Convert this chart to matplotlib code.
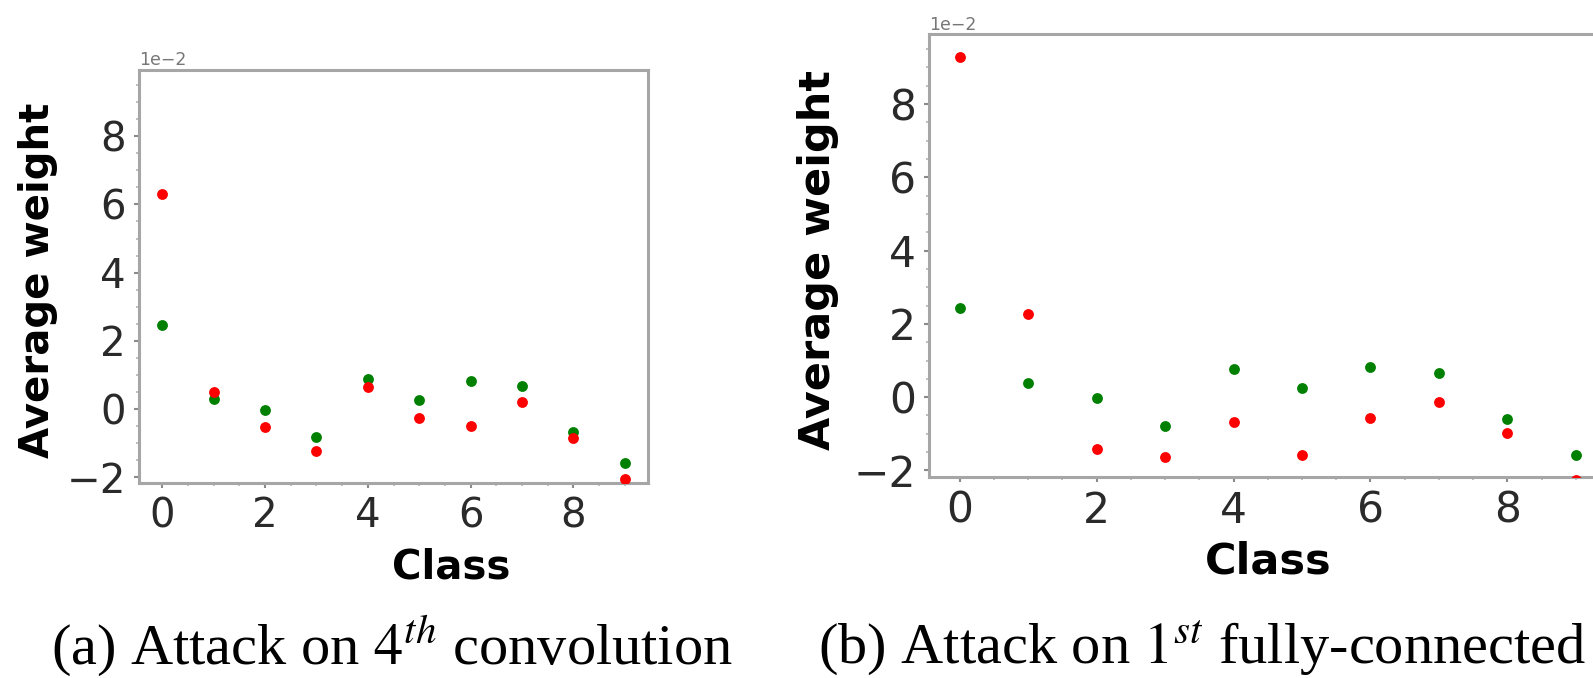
import matplotlib
matplotlib.use("Agg")
import matplotlib.pyplot as plt
from matplotlib.ticker import AutoMinorLocator

plt.rcParams['mathtext.fontset'] = 'stix'

classes = [0, 1, 2, 3, 4, 5, 6, 7, 8, 9]

# (a) Attack on 4th convolution  (values in units of 1e-2)
conv_green = [2.46, 0.30, -0.02, -0.82, 0.89, 0.26, 0.84, 0.67, -0.67, -1.58]
conv_red = [6.30, 0.49, -0.53, -1.21, 0.64, -0.25, -0.49, 0.20, -0.84, -2.05]

# (b) Attack on 1st fully-connected  (values in units of 1e-2)
fc_green = [2.43, 0.38, -0.03, -0.80, 0.76, 0.26, 0.81, 0.65, -0.60, -1.57]
fc_red = [9.27, 2.27, -1.42, -1.64, -0.69, -1.57, -0.57, -0.14, -0.97, -2.25]

captions = [r"(a) Attack on $4^{th}$ convolution",
            r"(b) Attack on $1^{st}$ fully-connected"]

W, H = 1593, 678
fig = plt.figure(figsize=(W / 100, H / 100), dpi=100)


def px_axes(left, top, right, bottom):
    return fig.add_axes([left / W, 1 - bottom / H, (right - left) / W, (bottom - top) / H])


ax1 = px_axes(139, 69.5, 648, 483.3)
ax2 = px_axes(929, 34.3, 1606.6, 476.7)

spine_c = '#a6a6a6'
tick_c = '#8a8a8a'


def style(ax, green, red, ylim, fs_tick, fs_lab, xlab_pos, ylab_pos):
    sc = 1e-2
    ax.plot(classes, [v * sc for v in green], 'o', color='#008000', ms=7.8, mew=0, zorder=3)
    ax.plot(classes, [v * sc for v in red], 'o', color='#ff0000', ms=7.8, mew=0, zorder=3)
    ax.set_xlim(-0.45, 9.45)
    ax.set_ylim(ylim[0] * sc, ylim[1] * sc)
    ax.set_xticks([0, 2, 4, 6, 8])
    ax.set_yticks([v * sc for v in [-2, 0, 2, 4, 6, 8]])
    ax.ticklabel_format(axis='y', style='sci', scilimits=(-2, -2))
    ax.xaxis.set_minor_locator(AutoMinorLocator(4))
    ax.yaxis.set_minor_locator(AutoMinorLocator(4))
    for s in ax.spines.values():
        s.set_color(spine_c)
        s.set_linewidth(2.2)
    ax.tick_params(which='major', length=3.5, width=1.5, color=tick_c, labelsize=fs_tick,
                   labelcolor='#2a2a2a', pad=6)
    ax.tick_params(which='minor', length=2.5, width=1.2, color='#b5b5b5')
    ax.yaxis.get_offset_text().set_fontsize(12.5)
    ax.yaxis.get_offset_text().set_color('#777777')
    ax.set_xlabel('Class', fontsize=fs_lab, fontweight='bold')
    ax.set_ylabel('Average weight', fontsize=fs_lab, fontweight='bold')
    ax.xaxis.set_label_coords(*xlab_pos)
    ax.yaxis.set_label_coords(*ylab_pos)


style(ax1, conv_green, conv_red, (-2.17, 9.95), 29, 29, (0.613, -0.154), (-0.159, 0.49))
style(ax2, fc_green, fc_red, (-2.17, 9.9), 30.5, 31, (0.5, -0.145), (-0.133, 0.49))

fig.text(51 / W, 1 - 664 / H, captions[0], fontsize=42, family='Liberation Serif',
         ha='left', va='baseline')
fig.text(818 / W, 1 - 664 / H, captions[1], fontsize=42, family='Liberation Serif',
         ha='left', va='baseline')

fig.savefig('out.png', dpi=100)
